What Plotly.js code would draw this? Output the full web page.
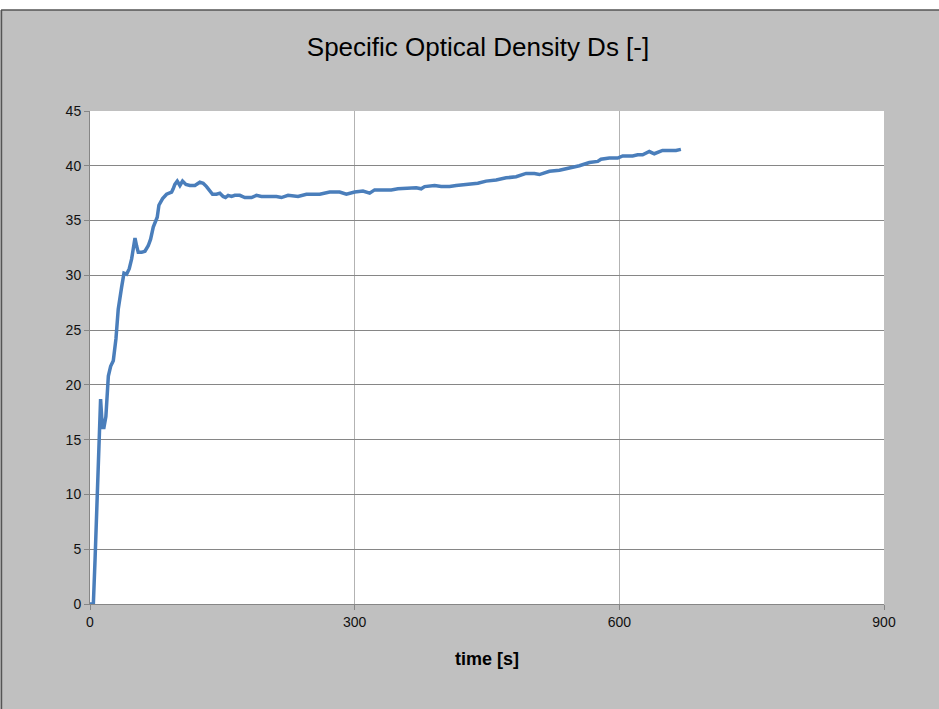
<!DOCTYPE html>
<html>
<head>
<meta charset="utf-8">
<script src="https://cdn.plot.ly/plotly-3.0.1.min.js"></script>
<style>html,body{margin:0;padding:0;background:#fff;}#chart{width:939px;height:709px;}</style>
</head>
<body>
<div id="chart"></div>
<script>
const timeS = [0, 3.8, 5.7, 8.3, 10.6, 12, 14, 15.8, 18, 20.8, 23.4, 26.4, 29.4, 32, 35.8, 38.5, 41.5, 44.5, 47.2, 49, 51, 52.8, 54.7, 58.5, 62.3, 66, 68.7, 71.7, 74.3, 76.2, 78.1, 82.3, 86.8, 92.5, 94.3, 96.2, 98.9, 101.9, 104.9, 108.7, 113.2, 118.9, 124.5, 128.3, 132.1, 135.1, 138.9, 143.4, 147.2, 150.9, 153.6, 156.6, 160.4, 164.2, 169.8, 175.5, 183, 188.7, 194.3, 201, 211.3, 217, 224.5, 235.8, 245.3, 260.4, 271.7, 283, 290.6, 300, 309.4, 317, 322.6, 341.5, 349, 369.8, 375.4, 379.3, 390.6, 398.1, 407.6, 415.1, 426.4, 439.6, 449, 460.4, 471.7, 483, 494.3, 503.8, 509.4, 520.8, 532.1, 543.4, 554.7, 566, 575.5, 579.2, 588.7, 598.1, 603.8, 615.1, 620.8, 626.4, 634, 639.6, 649, 664.2, 669.8];
const densityDs = [0, 0, 4.0, 11, 15.6, 18.7, 16.1, 16.1, 17.1, 20.8, 21.7, 22.2, 24.2, 26.9, 28.9, 30.2, 30.1, 30.6, 31.5, 32.4, 33.4, 32.7, 32.1, 32.1, 32.2, 32.7, 33.3, 34.4, 34.9, 35.3, 36.4, 37.0, 37.4, 37.6, 37.9, 38.3, 38.6, 38.2, 38.6, 38.3, 38.2, 38.2, 38.5, 38.4, 38.1, 37.8, 37.4, 37.4, 37.5, 37.2, 37.1, 37.3, 37.2, 37.3, 37.3, 37.1, 37.1, 37.3, 37.2, 37.2, 37.2, 37.1, 37.3, 37.2, 37.4, 37.4, 37.6, 37.6, 37.4, 37.6, 37.7, 37.5, 37.8, 37.8, 37.9, 38.0, 37.9, 38.1, 38.2, 38.1, 38.1, 38.2, 38.3, 38.4, 38.6, 38.7, 38.9, 39.0, 39.3, 39.3, 39.2, 39.5, 39.6, 39.8, 40.0, 40.3, 40.4, 40.6, 40.7, 40.7, 40.9, 40.9, 41.0, 41.0, 41.3, 41.1, 41.4, 41.4, 41.5];
const chartTitle = 'Specific Optical Density Ds [-]';
const xTitle = 'time [s]';

const trace = {
  x: timeS, y: densityDs, type: 'scatter', mode: 'lines',
  line: {color: '#4a7ebb', width: 3.5},
  hoverinfo: 'x+y'
};

const layout = {
  width: 939, height: 709,
  margin: {l: 90, r: 55, t: 111, b: 105},
  paper_bgcolor: '#c0c0c0',
  plot_bgcolor: '#ffffff',
  showlegend: false,
  font: {family: 'Liberation Sans, Arial, sans-serif', color: '#000'},
  title: {text: chartTitle, font: {size: 26, color: '#000'}, x: 0.4887, xref: 'paper', xanchor: 'center', y: 0.934, yref: 'container', yanchor: 'middle'},
  xaxis: {
    range: [0, 900], tickvals: [0, 300, 600, 900], ticktext: ['0','300','600','900'],
    showgrid: true, gridcolor: '#b3b3b3', gridwidth: 1,
    showline: true, linecolor: '#868686', linewidth: 1,
    ticks: 'outside', ticklen: 5, tickcolor: '#868686',
    tickfont: {size: 14, color: '#111'}, zeroline: false, fixedrange: true,
    title: {text: '<b>' + xTitle + '</b>', font: {size: 18, color: '#000'}, standoff: 23}
  },
  yaxis: {
    range: [0, 45], dtick: 5, tick0: 0,
    showgrid: true, gridcolor: '#868686', gridwidth: 1,
    showline: true, linecolor: '#868686', linewidth: 1,
    ticks: 'outside', ticklen: 5, tickcolor: '#868686',
    tickfont: {size: 14, color: '#111'}, zeroline: false, fixedrange: true
  },
  shapes: [
    {type: 'rect', xref: 'paper', yref: 'paper', x0: -0.2, x1: 1.2, y0: 1.2049, y1: 1.3, fillcolor: '#ffffff', line: {width: 0}, layer: 'above'},
    {type: 'line', xref: 'paper', yref: 'paper', x0: -0.112, x1: 1.2, y0: 1.2049, y1: 1.2049, line: {color: '#555', width: 1.5}, layer: 'above'},
    {type: 'line', xref: 'paper', yref: 'paper', x0: -0.1115, x1: -0.1115, y0: -0.3, y1: 1.2049, line: {color: '#555', width: 1.5}, layer: 'above'}
  ]
};

Plotly.newPlot('chart', [trace], layout, {displayModeBar: false, staticPlot: true});
</script>
</body>
</html>
